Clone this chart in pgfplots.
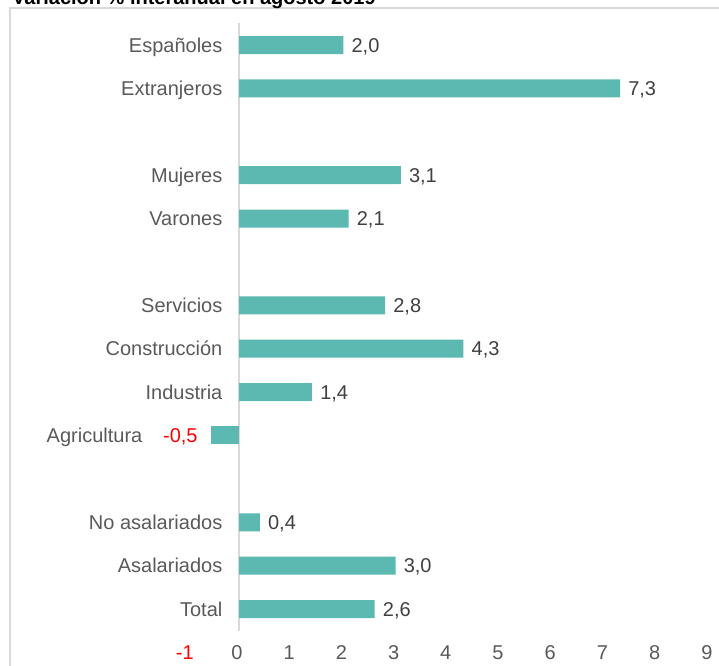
\documentclass[border=0pt]{standalone}
\usepackage{pgfplots}
\pgfplotsset{compat=1.18}
\usepackage{fontspec}
\setmainfont{Liberation Sans}

\definecolor{barteal}{RGB}{92,185,177}
\definecolor{labgray}{RGB}{89,89,89}
\definecolor{valgray}{RGB}{64,64,64}
\definecolor{framegray}{RGB}{217,217,217}

\begin{document}
\begin{tikzpicture}
\useasboundingbox (0pt,0pt) rectangle (719pt,-665pt);
% outer frame (bottom and right edge fall outside the picture)
\draw[framegray, line width=1.5pt] (10pt,-700pt) -- (10pt,-8pt) -- (730pt,-8pt);
% title, mostly cut off at the top as in the source
\node[anchor=base west, inner sep=0pt, font=\fontsize{20}{24}\selectfont\bfseries]
    at (12pt,-4pt) {Variación \% interanual en agosto 2019};

\begin{axis}[
    at={(186.8pt,-630.7pt)}, anchor=south west,
    scale only axis,
    width=522pt, height=607.4pt,
    xbar, bar width=18pt, bar shift=0pt,
    xmin=-1, xmax=9, ymin=-0.5, ymax=13.5,
    axis line style={draw=none},
    tick style={draw=none},
    xtick={-1,0,...,9},
    xticklabels={\textcolor{red}{-1},0,1,2,3,4,5,6,7,8,9},
    xticklabel style={font=\fontsize{20}{24}\selectfont, text=labgray, yshift=-11pt, xshift=-2pt},
    ytick={0,1,2,4,5,6,7,9,10,12,13},
    yticklabels={Total,Asalariados,No asalariados,Agricultura\rule{80pt}{0pt},Industria,Construcción,Servicios,Varones,Mujeres,Extranjeros,Españoles},
    yticklabel style={font=\fontsize{20}{24}\selectfont, text=labgray, inner sep=0pt, xshift=40pt,
        text height=14.3pt, text depth=0pt},
    clip=false,
    point meta=x,
    nodes near coords,
    nodes near coords align=horizontal,
    every node near coord/.append style={font=\fontsize{20}{24}\selectfont, text=valgray,
        inner sep=8pt, text height=14.3pt, text depth=0pt,
        /pgf/number format/use comma, /pgf/number format/fixed,
        /pgf/number format/fixed zerofill, /pgf/number format/precision=1,
        /pgf/number format/assume math mode=true},
]
% vertical line at zero
\draw[framegray, line width=1.5pt] (axis cs:0,-0.5) -- (axis cs:0,13.5);

\addplot[fill=barteal, draw=none] coordinates {
    (2.6,0)
    (3.0,1)
    (0.4,2)
    (1.4,5)
    (4.3,6)
    (2.8,7)
    (2.1,9)
    (3.1,10)
    (7.3,12)
    (2.0,13)
};
% the one negative bar, with its label in red
\addplot[fill=barteal, draw=none,
    every node near coord/.append style={text=red, xshift=-5pt}] coordinates {
    (-0.54,4)
};
\end{axis}
\end{tikzpicture}
\end{document}
